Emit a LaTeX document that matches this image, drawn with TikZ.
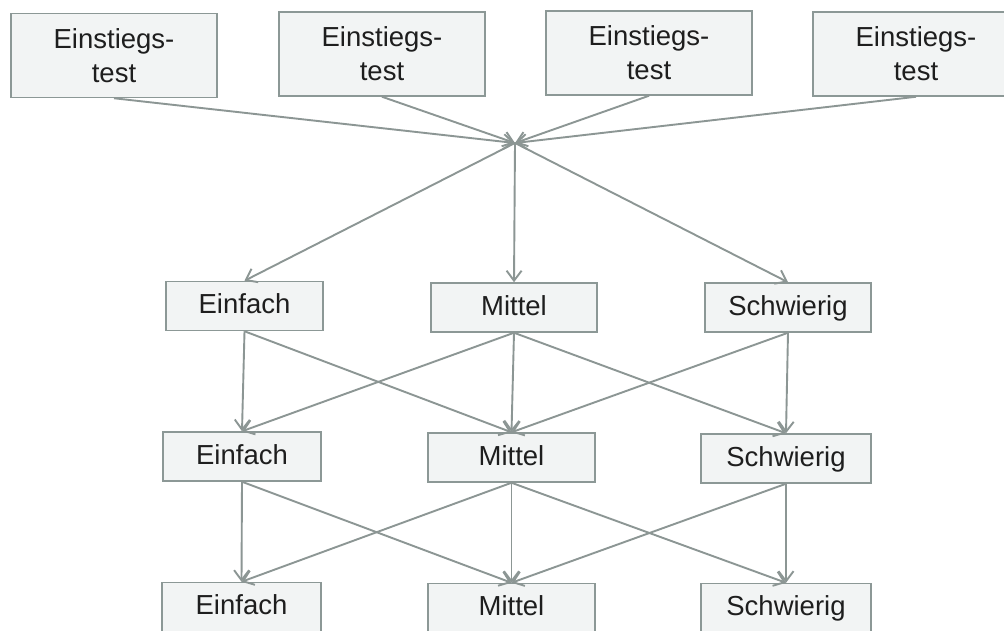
\documentclass[tikz,border=0pt]{standalone}
\usepackage{fontspec}
\setmainfont{Liberation Sans}
\usetikzlibrary{arrows.meta}
\definecolor{ln}{RGB}{140,150,148}
\definecolor{bxfill}{RGB}{242,244,244}
\definecolor{bxdraw}{RGB}{140,152,150}
\definecolor{txt}{RGB}{30,30,30}
\begin{document}
\begin{tikzpicture}[x=1pt,y=1pt,
  box/.style={draw=bxdraw,fill=bxfill,line width=1.5pt,inner sep=0pt,text=txt,
    font=\fontsize{27.5}{34}\selectfont},
  tbox/.style={box,align=center,minimum width=206pt,minimum height=84pt},
  rbox/.style={box,text height=20pt,text depth=5pt,minimum height=49pt},
  conn/.style={draw=ln,line width=1.9pt,-{Straight Barb[length=10pt,width=15pt]}}]
\useasboundingbox[clip] (0,0) rectangle (1004,-630);
\fill[white] (0,0) rectangle (1004,-630);
% top boxes
\node[tbox] (t1) at (114,-55.5) {Einstiegs-\\test};
\node[tbox] (t2) at (382,-54) {Einstiegs-\\test};
\node[tbox] (t3) at (649,-53) {Einstiegs-\\test};
\node[tbox] (t4) at (916,-54) {Einstiegs-\\test};
\coordinate (c) at (515,-143);
% rows
\node[rbox,minimum width=157pt] (e1) at (244.5,-306) {Einfach};
\node[rbox,minimum width=166pt] (m1) at (514,-307.5) {Mittel};
\node[rbox,minimum width=166pt] (s1) at (788,-307.5) {Schwierig};
\node[rbox,minimum width=158pt] (e2) at (242,-456.5) {Einfach};
\node[rbox,minimum width=167pt] (m2) at (511.5,-457.5) {Mittel};
\node[rbox,minimum width=170pt] (s2) at (786,-458.5) {Schwierig};
\node[rbox,minimum width=159pt] (e3) at (241.5,-607) {Einfach};
\node[rbox,minimum width=167pt] (m3) at (511.5,-608) {Mittel};
\node[rbox,minimum width=170pt] (s3) at (786,-608) {Schwierig};
% connectors
\foreach \t in {t1,t2,t3,t4} \draw[conn] (\t.south) -- (c);
\foreach \r in {e1,m1,s1} \draw[conn] (c) -- (\r.north);
\draw[conn] (e1.south) -- (e2.north);
\draw[conn] (e1.south) -- (m2.north);
\draw[conn] (m1.south) -- (e2.north);
\draw[conn] (m1.south) -- (m2.north);
\draw[conn] (m1.south) -- (s2.north);
\draw[conn] (s1.south) -- (m2.north);
\draw[conn] (s1.south) -- (s2.north);
\draw[conn] (e2.south) -- (e3.north);
\draw[conn] (e2.south) -- (m3.north);
\draw[conn] (m2.south) -- (e3.north);
\draw[conn] (m2.south) -- (m3.north);
\draw[conn] (m2.south) -- (s3.north);
\draw[conn] (s2.south) -- (m3.north);
\draw[conn] (s2.south) -- (s3.north);
\end{tikzpicture}
\end{document}
